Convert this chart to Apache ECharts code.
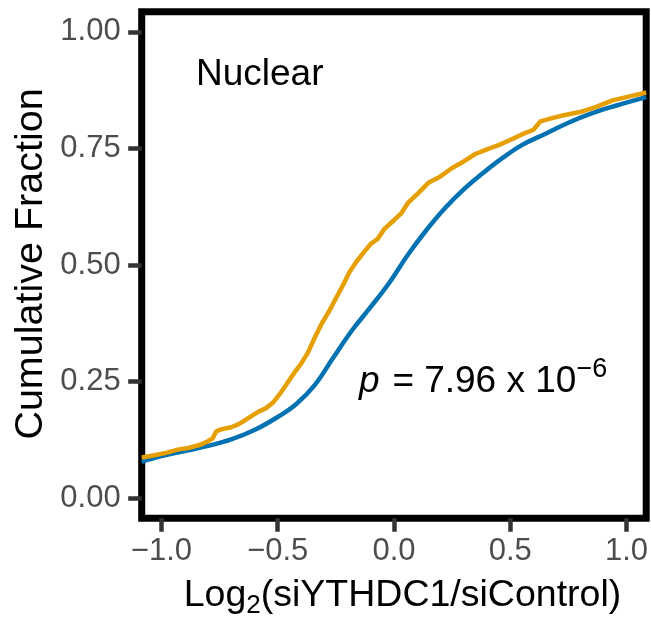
<!DOCTYPE html>
<html>
<head>
<meta charset="utf-8">
<script src="https://cdn.jsdelivr.net/npm/echarts@6/dist/echarts.min.js"></script>
<style>
  html, body { margin: 0; padding: 0; background: #fff; }
  #chart { width: 651px; height: 620px; }
</style>
</head>
<body>
<div id="chart"></div>
<script>
// tick values
var xTicks = [-1.0, -0.5, 0.0, 0.5, 1.0];
var yTicks = [0, 0.25, 0.5, 0.75, 1.0];

// all genes (blue, smooth ECDF)
var allX = [-1.085, -1.0, -0.9, -0.8, -0.7, -0.6, -0.5, -0.42, -0.34, -0.26, -0.18, -0.1, -0.02,
            0.06, 0.14, 0.22, 0.3, 0.38, 0.46, 0.55, 0.65, 0.75, 0.85, 0.95, 1.085];
var allY = [0.078, 0.090, 0.101, 0.112, 0.126, 0.146, 0.174, 0.202, 0.243, 0.302, 0.360, 0.410, 0.462,
            0.522, 0.575, 0.622, 0.662, 0.696, 0.727, 0.757, 0.781, 0.805, 0.825, 0.841, 0.860];

// nuclear targets (orange, stepped ECDF)
var nucX = [-1.085, -1.03, -0.98, -0.93, -0.88, -0.83, -0.80, -0.78, -0.765, -0.74, -0.70, -0.67,
            -0.64, -0.61, -0.58, -0.55, -0.52, -0.49, -0.46, -0.43, -0.40, -0.37, -0.34, -0.31,
            -0.28, -0.25, -0.22, -0.19, -0.16, -0.13, -0.10, -0.07, -0.04, 0.0, 0.03, 0.06,
            0.10, 0.15, 0.20, 0.25, 0.30, 0.35, 0.40, 0.45, 0.50, 0.55, 0.60, 0.63, 0.68,
            0.73, 0.80, 0.87, 0.94, 1.0, 1.085];
var nucY = [0.087, 0.092, 0.097, 0.104, 0.108, 0.115, 0.122, 0.128, 0.143, 0.148, 0.152, 0.158,
            0.167, 0.177, 0.186, 0.193, 0.205, 0.224, 0.246, 0.268, 0.288, 0.312, 0.345, 0.375,
            0.400, 0.428, 0.456, 0.486, 0.508, 0.527, 0.545, 0.556, 0.578, 0.596, 0.610, 0.633,
            0.652, 0.677, 0.690, 0.708, 0.722, 0.738, 0.748, 0.757, 0.768, 0.780, 0.790, 0.808, 0.815,
            0.821, 0.828, 0.839, 0.853, 0.860, 0.870];

function pairs(xs, ys) {
  var out = [];
  for (var i = 0; i < xs.length; i++) out.push([xs[i], ys[i]]);
  return out;
}

var chart = echarts.init(document.getElementById('chart'), null, { renderer: 'canvas' });

var fontFam = '"Liberation Sans", Arial, sans-serif';

var option = {
  animation: false,
  backgroundColor: '#fff',
  grid: {
    left: 141.7, right: 3.5, top: 11.7, bottom: 101.7,
    show: true, borderColor: '#000', borderWidth: 7, backgroundColor: 'transparent'
  },
  xAxis: {
    type: 'value', min: -1.085, max: 1.085,
    splitLine: { show: false },
    axisLine: { show: false, onZero: false },
    axisTick: { show: true, length: 13.5, customValues: xTicks, lineStyle: { color: '#333', width: 4.5 } },
    axisLabel: {
      customValues: xTicks, margin: 18, color: '#4D4D4D', fontSize: 31, fontFamily: fontFam,
      formatter: function (v) { return (v < 0 ? '\u2212' : '') + Math.abs(v).toFixed(1); }
    }
  },
  yAxis: {
    type: 'value', min: -0.0433, max: 1.0432,
    splitLine: { show: false },
    axisLine: { show: false, onZero: false },
    axisTick: { show: true, length: 13.5, customValues: yTicks, lineStyle: { color: '#333', width: 4.5 } },
    axisLabel: {
      customValues: yTicks, margin: 21, color: '#4D4D4D', fontSize: 31, fontFamily: fontFam,
      formatter: function (v) { return v.toFixed(2); }
    }
  },
  series: [
    {
      name: 'All', type: 'line', data: pairs(allX, allY), showSymbol: false, smooth: 0.4,
      lineStyle: { color: '#0072B2', width: 4.5 }, z: 2
    },
    {
      name: 'Nuclear', type: 'line', data: pairs(nucX, nucY), showSymbol: false,
      lineStyle: { color: '#E69F00', width: 4.5 }, z: 3
    }
  ],
  graphic: [
    { // y axis title
      type: 'text', x: 31, y: 264, rotation: Math.PI / 2,
      style: { text: 'Cumulative Fraction', fill: '#000', font: '39.5px ' + fontFam,
               textAlign: 'center', textVerticalAlign: 'middle' }
    },
    { // x axis title with subscript
      type: 'text', x: 402.5, y: 577,
      style: {
        text: '{a|Log}{s|2}{a|(siYTHDC1/siControl)}',
        textAlign: 'center', textVerticalAlign: 'top',
        rich: {
          a: { fontSize: 37.5, fontFamily: fontFam, fill: '#000', lineHeight: 37, verticalAlign: 'top' },
          s: { fontSize: 26, fontFamily: fontFam, fill: '#000', lineHeight: 42, verticalAlign: 'bottom' }
        }
      }
    },
    {
      type: 'text', x: 196, y: 75,
      style: { text: 'Nuclear', fill: '#000', font: '37px ' + fontFam,
               textAlign: 'left', textVerticalAlign: 'middle' }
    },
    { // p value
      type: 'text', x: 359, y: 356.2,
      style: {
        text: '{i|p}{e|=}{a|7.96 x 10}{s|\u22126}',
        textAlign: 'left', textVerticalAlign: 'top',
        rich: {
          i: { fontSize: 37, fontStyle: 'italic', fontFamily: fontFam, fill: '#000', lineHeight: 44, verticalAlign: 'bottom' },
          e: { fontSize: 37, fontFamily: fontFam, fill: '#000', lineHeight: 44, verticalAlign: 'bottom', padding: [0, 10, 0, 13] },
          a: { fontSize: 37, fontFamily: fontFam, fill: '#000', lineHeight: 44, verticalAlign: 'bottom' },
          s: { fontSize: 27, fontFamily: fontFam, fill: '#000', lineHeight: 27, verticalAlign: 'top' }
        }
      }
    }
  ]
};

chart.setOption(option);
</script>
</body>
</html>
